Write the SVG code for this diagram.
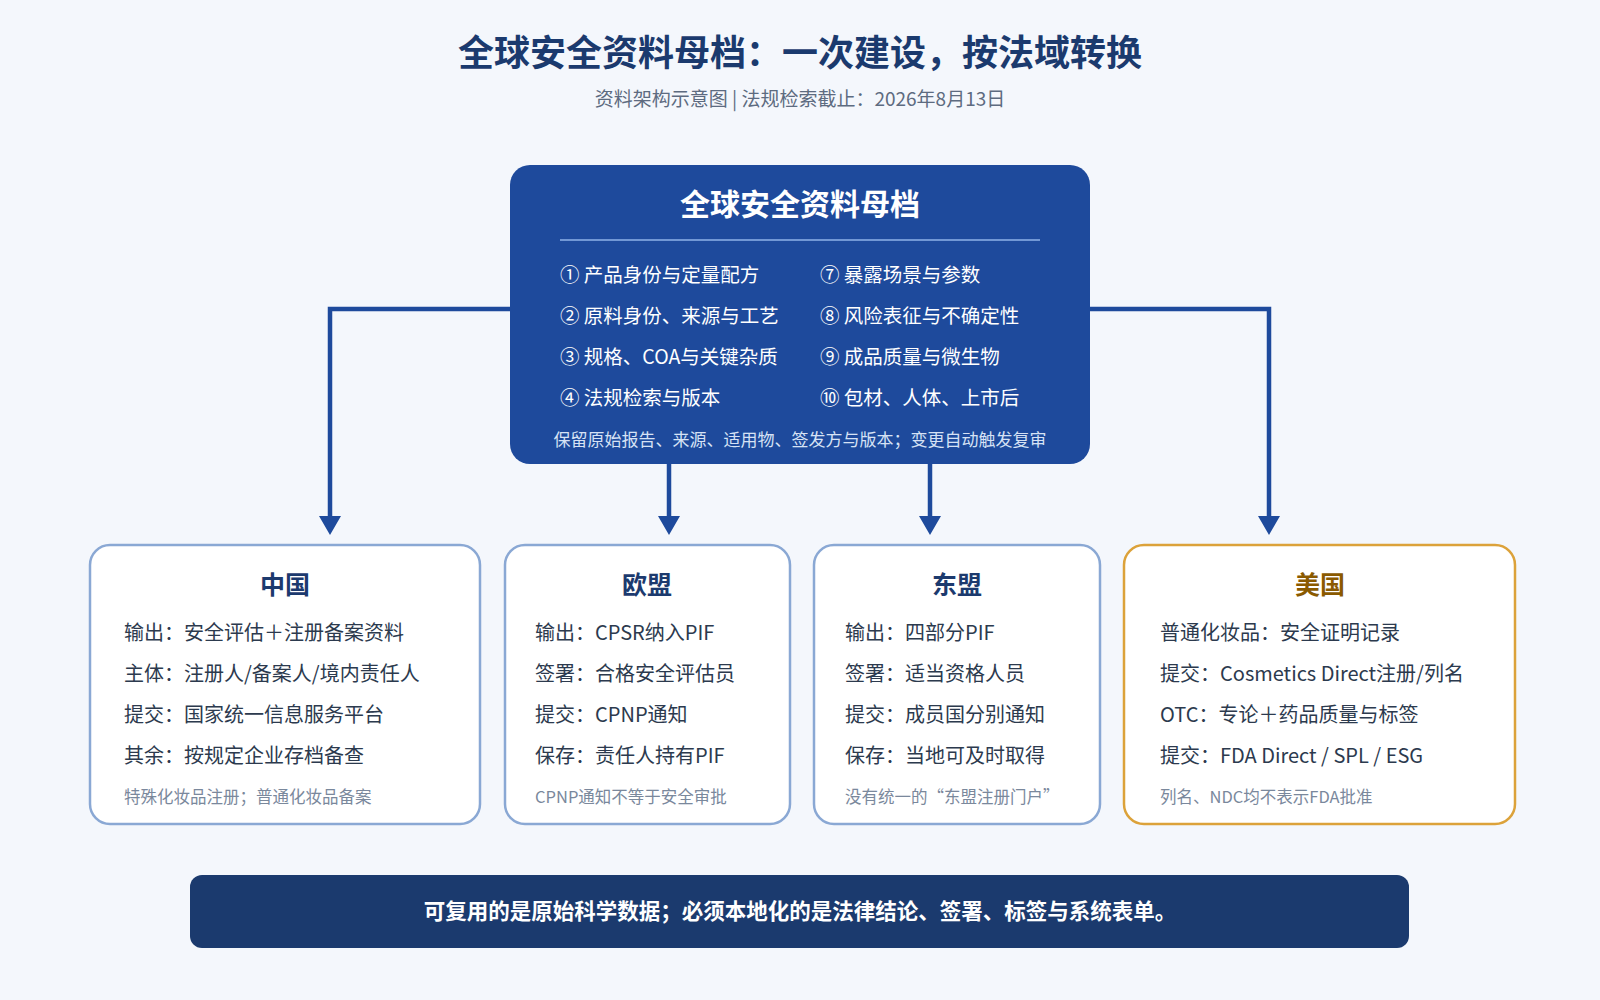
<svg xmlns="http://www.w3.org/2000/svg" width="1600" height="1000" viewBox="0 0 1600 1000">
<defs>
<style>
text{font-family:"Noto Sans CJK SC","Noto Sans",sans-serif}
.t{font-size:36px;font-weight:700;fill:#1b3a6e;text-anchor:middle}
.st{font-size:19px;fill:#5d6b80;text-anchor:middle}
.it{font-size:19.5px;fill:#fff}
.card{fill:#fff;stroke:#8aa8d4;stroke-width:2.5}
.ct{font-size:25px;font-weight:700;fill:#1c3a6e;text-anchor:middle}
.cl{font-size:20px;fill:#2c3a4e}
.cn{font-size:16.5px;fill:#7a889c}
.con{fill:none;stroke:#1e4a9c;stroke-width:4.5}
</style>
<marker id="ah" viewBox="0 0 10 10" refX="5" refY="10" markerWidth="6" markerHeight="5" orient="auto-start-reverse" markerUnits="userSpaceOnUse"><path d="M0,0 L10,0 L5,10 z" fill="#1e4a9c"/></marker>
</defs>
<rect width="1600" height="1000" fill="#f4f7fc"/>
<text class="t" x="800" y="66">全球安全资料母档：一次建设，按法域转换</text>
<text class="st" x="800" y="106">资料架构示意图 | 法规检索截止：2026年8月13日</text>
<g id="connectors">
<path class="con" d="M512,309 H330 V522"/>
<path class="con" d="M1088,309 H1269 V522"/>
<path class="con" d="M669,464 V522"/>
<path class="con" d="M930,464 V522"/>
<path d="M319,516 h22 l-11,19 z M1258,516 h22 l-11,19 z M658,516 h22 l-11,19 z M919,516 h22 l-11,19 z" fill="#1e4a9c"/>
</g>
<g id="master">
<rect x="510" y="165" width="580" height="299" rx="20" fill="#1e4a9c"/>
<text x="800" y="215" font-size="30" font-weight="700" fill="#fff" text-anchor="middle">全球安全资料母档</text>
<line x1="560" y1="240" x2="1040" y2="240" stroke="#8fb3e8" stroke-width="1.5"/>
<text class="it" x="560" y="282">① 产品身份与定量配方</text>
<text class="it" x="560" y="323">② 原料身份、来源与工艺</text>
<text class="it" x="560" y="364">③ 规格、COA与关键杂质</text>
<text class="it" x="560" y="405">④ 法规检索与版本</text>
<text class="it" x="820" y="282">⑦ 暴露场景与参数</text>
<text class="it" x="820" y="323">⑧ 风险表征与不确定性</text>
<text class="it" x="820" y="364">⑨ 成品质量与微生物</text>
<text class="it" x="820" y="405">⑩ 包材、人体、上市后</text>
<text x="800" y="446" font-size="17" fill="#d6e2f5" text-anchor="middle">保留原始报告、来源、适用物、签发方与版本；变更自动触发复审</text>
</g>
<g id="china">
<rect class="card" x="90" y="545" width="390" height="279" rx="20"/>
<text class="ct" x="285" y="594">中国</text>
<text class="cl" x="124" y="640">输出：安全评估＋注册备案资料</text>
<text class="cl" x="124" y="681">主体：注册人/备案人/境内责任人</text>
<text class="cl" x="124" y="722">提交：国家统一信息服务平台</text>
<text class="cl" x="124" y="763">其余：按规定企业存档备查</text>
<text class="cn" x="124" y="803">特殊化妆品注册；普通化妆品备案</text>
</g>
<g id="eu">
<rect class="card" x="505" y="545" width="285" height="279" rx="20"/>
<text class="ct" x="647" y="594">欧盟</text>
<text class="cl" x="535" y="640">输出：CPSR纳入PIF</text>
<text class="cl" x="535" y="681">签署：合格安全评估员</text>
<text class="cl" x="535" y="722">提交：CPNP通知</text>
<text class="cl" x="535" y="763">保存：责任人持有PIF</text>
<text class="cn" x="535" y="803">CPNP通知不等于安全审批</text>
</g>
<g id="asean">
<rect class="card" x="814" y="545" width="286" height="279" rx="20"/>
<text class="ct" x="957" y="594">东盟</text>
<text class="cl" x="845" y="640">输出：四部分PIF</text>
<text class="cl" x="845" y="681">签署：适当资格人员</text>
<text class="cl" x="845" y="722">提交：成员国分别通知</text>
<text class="cl" x="845" y="763">保存：当地可及时取得</text>
<text class="cn" x="845" y="803">没有统一的“东盟注册门户”</text>
</g>
<g id="us">
<rect class="card" x="1124" y="545" width="391" height="279" rx="20" style="stroke:#dca23a"/>
<text class="ct" x="1320" y="594" style="fill:#8a5a00">美国</text>
<text class="cl" x="1160" y="640">普通化妆品：安全证明记录</text>
<text class="cl" x="1160" y="681">提交：Cosmetics Direct注册/列名</text>
<text class="cl" x="1160" y="722">OTC：专论＋药品质量与标签</text>
<text class="cl" x="1160" y="763">提交：FDA Direct / SPL / ESG</text>
<text class="cn" x="1160" y="803">列名、NDC均不表示FDA批准</text>
</g>
<g id="bottom">
<rect x="190" y="875" width="1219" height="73" rx="12" fill="#1b3a6e"/>
<text x="800" y="919" font-size="21.5" font-weight="700" fill="#fff" text-anchor="middle">可复用的是原始科学数据；必须本地化的是法律结论、签署、标签与系统表单。</text>
</g>
</svg>
